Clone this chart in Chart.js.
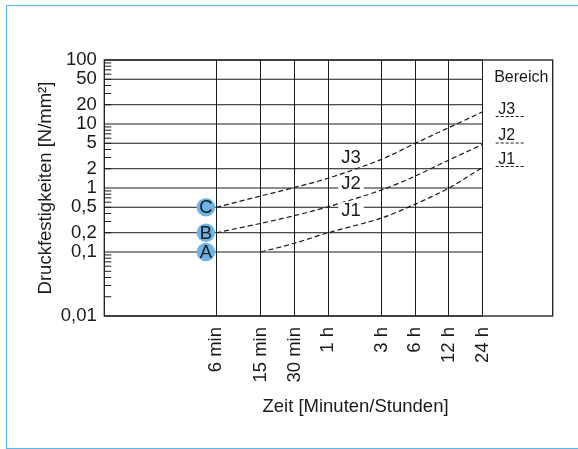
<!DOCTYPE html>
<html>
<head>
<meta charset="utf-8">
<script src="https://cdn.jsdelivr.net/npm/chart.js@4"></script>
<style>
  html, body { margin: 0; padding: 0; background: #fff; overflow: hidden; }
  #wrap { position: relative; width: 578px; height: 449px; overflow: hidden; }
  #frame { position: absolute; left: 5.7px; top: 4.7px; width: 660px; height: 444.3px;
           border: 1.5px solid #5db7ea; border-right: none; box-sizing: border-box; }
  canvas { position: absolute; left: 0; top: 0; }
</style>
</head>
<body>
<div id="wrap">
  <div id="frame"></div>
  <canvas id="chart" width="578" height="449"></canvas>
</div>
<script>
// data
const timeTicks = [6, 15, 30, 60, 180, 360, 720, 1440];
const timeLabels = ['6 min', '15 min', '30 min', '1 h', '3 h', '6 h', '12 h', '24 h'];
const strengthTicks = [0.01, 0.1, 0.2, 0.5, 1, 2, 5, 10, 20, 50, 100];
const strengthLabels = ['0,01', '0,1', '0,2', '0,5', '1', '2', '5', '10', '20', '50', '100'];

const j1Time = [15, 30, 60, 180, 360, 720, 1440];
const j1Values = [0.1, 0.137, 0.2, 0.34, 0.56, 1.0, 2.1];
const j2Time = [6, 15, 30, 60, 180, 360, 720, 1440];
const j2Values = [0.2, 0.28, 0.37, 0.51, 0.93, 1.54, 2.74, 4.8];
const j3Time = [6, 15, 30, 60, 180, 360, 720, 1440];
const j3Values = [0.5, 0.75, 1.02, 1.42, 2.8, 5.0, 8.8, 15.5];

const startLetters = ['A', 'B', 'C'];
const startValues = [0.1, 0.2, 0.5];
const startTime = 4.85;

const rangeNames = ['J3', 'J2', 'J1'];

const FONT = '"Liberation Sans", Arial, Helvetica, sans-serif';
const INK = '#1a1a1a';

const toPoints = (xs, ys) => xs.map((t, i) => ({ x: t, y: ys[i] }));

function curve(label, xs, ys) {
    return {
        label,
        data: toPoints(xs, ys),
        showLine: true,
        borderColor: INK,
        borderWidth: 1.2,
        borderDash: [5, 3],
        pointRadius: 0,
        tension: 0.3,
        fill: false
    };
}

const paperPlugin = {
    id: 'paper',
    beforeDatasetsDraw(chart) {
        const { ctx, chartArea: a, scales: { x, y } } = chart;
        const xEnd = x.getPixelForValue(timeTicks[timeTicks.length - 1]);
        ctx.save();
        ctx.strokeStyle = INK;
        ctx.lineWidth = 1;
        // horizontal lines stop at the 24 h line
        ctx.beginPath();
        strengthTicks.forEach(v => {
            const py = y.getPixelForValue(v);
            ctx.moveTo(a.left, py);
            ctx.lineTo(xEnd, py);
        });
        // short log ticks on the left axis
        for (let e = -2; e < 2; e++) {
            for (let m = 2; m <= 9; m++) {
                const py = y.getPixelForValue(m * Math.pow(10, e));
                ctx.moveTo(a.left, py);
                ctx.lineTo(a.left + 7, py);
            }
        }
        ctx.stroke();
        ctx.lineWidth = 1.3;
        ctx.strokeRect(a.left, a.top, a.right - a.left, a.bottom - a.top);
        ctx.restore();
    },
    afterDatasetsDraw(chart) {
        const { ctx, chartArea: a, scales: { x, y } } = chart;
        ctx.save();
        ctx.fillStyle = INK;
        ctx.font = '18.5px ' + FONT;
        ctx.textAlign = 'center';
        ctx.textBaseline = 'middle';

        // letters in the start circles
        const pts = chart.getDatasetMeta(3).data;
        pts.forEach((p, i) => ctx.fillText(startLetters[i], p.x, p.y + 1));

        // curve names with white background
        const namePos = [[96, 3.05], [96, 1.18], [96, 0.45]];
        rangeNames.forEach((n, i) => {
            const px = x.getPixelForValue(namePos[i][0]);
            const py = y.getPixelForValue(namePos[i][1]);
            const w = ctx.measureText(n).width + 6;
            ctx.fillStyle = '#fff';
            ctx.fillRect(px - w / 2, py - 8, w, 16);
            ctx.fillStyle = INK;
            ctx.fillText(n, px, py + 1);
        });

        // "Bereich" key right of the 24 h line
        const x0 = x.getPixelForValue(timeTicks[timeTicks.length - 1]);
        ctx.font = '16px ' + FONT;
        ctx.textAlign = 'left';
        ctx.textBaseline = 'alphabetic';
        ctx.fillText('Bereich', x0 + 11.5, a.top + 21.7);
        const baseY = [53.5, 80, 103.5];
        ctx.lineWidth = 1;
        ctx.strokeStyle = INK;
        rangeNames.forEach((n, i) => {
            const by = a.top + baseY[i];
            ctx.fillText(n, x0 + 15.5, by);
            ctx.setLineDash([3, 2]);
            ctx.beginPath();
            ctx.moveTo(x0 + 13, by + 3);
            ctx.lineTo(x0 + 43, by + 3);
            ctx.stroke();
            ctx.setLineDash([]);
        });

        // x axis title
        ctx.font = '18.5px ' + FONT;
        ctx.textAlign = 'center';
        ctx.fillText('Zeit [Minuten/Stunden]', 355.5, 411.7);
        ctx.restore();
    }
};

const chart = new Chart(document.getElementById('chart'), {
    type: 'scatter',
    data: {
        datasets: [
            curve('J1', j1Time, j1Values),
            curve('J2', j2Time, j2Values),
            curve('J3', j3Time, j3Values),
            {
                label: 'Start',
                data: startValues.map(v => ({ x: startTime, y: v })),
                showLine: false,
                pointRadius: 9.3,
                pointHoverRadius: 9.3,
                pointBackgroundColor: '#6cb5e6',
                pointBorderWidth: 0
            }
        ]
    },
    options: {
        responsive: false,
        animation: false,
        events: [],
        layout: { padding: { left: 0, top: 60, right: 25.3, bottom: 0 } },
        plugins: {
            legend: { display: false },
            tooltip: { enabled: false }
        },
        scales: {
            x: {
                type: 'logarithmic',
                min: 0.6,
                max: 6080,
                afterBuildTicks: s => { s.ticks = timeTicks.map(v => ({ value: v })); },
                afterFit: s => { s.height = 133; },
                border: { display: false },
                grid: { color: INK, lineWidth: 1, drawTicks: false },
                ticks: {
                    autoSkip: false,
                    minRotation: 90,
                    maxRotation: 90,
                    padding: 11,
                    color: INK,
                    font: { family: FONT, size: 18.5 },
                    callback: (v, i) => timeLabels[i]
                }
            },
            y: {
                type: 'logarithmic',
                min: 0.01,
                max: 100,
                afterBuildTicks: s => { s.ticks = strengthTicks.map(v => ({ value: v })); },
                afterFit: s => { s.width = 104.3; },
                border: { display: false },
                grid: { display: false, drawTicks: false },
                ticks: {
                    autoSkip: false,
                    padding: 7.5,
                    color: INK,
                    font: { family: FONT, size: 18.5 },
                    callback: (v, i) => strengthLabels[i]
                },
                title: {
                    display: true,
                    text: 'Druckfestigkeiten [N/mm²]',
                    color: INK,
                    font: { family: FONT, size: 18.5 },
                    padding: { top: 35, bottom: 0 }
                }
            }
        }
    },
    plugins: [paperPlugin]
});
</script>
</body>
</html>
